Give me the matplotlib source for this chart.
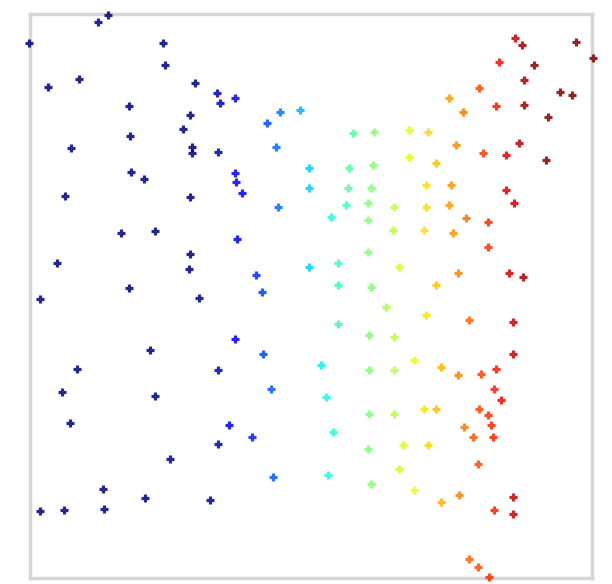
import matplotlib
matplotlib.use("Agg")
import matplotlib.pyplot as plt
import numpy as np

# point positions (x to the right, y downward)
x_vals = [29, 98, 108, 163, 165, 48, 79, 195, 217, 220, 235, 129, 190, 183, 130, 267, 280, 300,
          71, 192, 192, 218, 276, 131, 144, 65, 190, 235, 236, 242, 278, 121, 155, 237, 57, 190,
          189, 256, 129, 40, 199, 262, 150, 77, 62, 155, 70, 235, 263, 271, 229, 252, 218, 218,
          170, 273, 103, 145, 210, 40, 64, 104,
          515, 522, 576, 593, 534, 499, 524, 479, 449, 496, 524, 560, 572, 548, 463,
          353, 374, 409, 428, 456, 483, 506, 519, 546,
          309, 349, 373, 409, 436,
          309, 348, 371, 426, 451, 506, 514,
          346, 331, 368, 368, 394, 426, 449, 466, 488, 453, 488, 393, 424, 368,
          309, 338, 399, 458, 436, 509, 523, 338, 371,
          386, 426, 469, 513, 338, 369, 394, 513, 321, 414, 369, 394, 441, 458, 481, 496, 494, 501,
          326, 369, 394, 424, 436, 479, 488, 464, 473, 493, 491, 333, 368, 403, 428, 478, 328, 399,
          371, 414, 441, 459, 513, 494, 513, 469, 478, 489]
y_vals = [43, 22, 15, 43, 65, 87, 79, 83, 93, 103, 98, 106, 115, 129, 136, 123, 112, 110,
          148, 147, 153, 152, 147, 172, 179, 196, 197, 173, 182, 193, 207, 233, 231, 239, 263, 254,
          269, 275, 288, 299, 298, 292, 350, 369, 392, 396, 423, 339, 354, 389, 425, 437, 444, 370,
          459, 477, 489, 498, 500, 511, 510, 509,
          38, 45, 42, 58, 65, 62, 80, 88, 98, 106, 105, 92, 95, 117, 112,
          133, 132, 130, 132, 145, 153, 155, 143, 160,
          168, 168, 165, 157, 163,
          188, 188, 188, 185, 185, 190, 203,
          205, 217, 203, 220, 207, 207, 205, 218, 222, 233, 247, 230, 230, 252,
          267, 263, 267, 273, 285, 273, 277, 285, 287,
          307, 315, 320, 322, 324, 335, 337, 354, 365, 360, 370, 370, 367, 375, 374, 369, 389, 400,
          397, 414, 414, 409, 409, 409, 415, 427, 437, 437, 425, 432, 449, 445, 445, 464, 475, 469,
          484, 490, 502, 495, 497, 510, 514, 559, 567, 577]

x = np.array(x_vals, dtype=float)
y = np.array(y_vals, dtype=float)

fig = plt.figure(figsize=(6.12, 5.84), dpi=100)
ax = fig.add_axes([30/612, 6/584, 562/612, 564/584])
ax.scatter(x, y, c=x, cmap="jet", vmin=200, vmax=535, marker="+", s=40,
           linewidths=2.3, alpha=0.85, clip_on=False, zorder=3)
ax.set_xlim(30, 592)
ax.set_ylim(578, 14)
ax.set_xticks([])
ax.set_yticks([])
for sp in ax.spines.values():
    sp.set_color("#d6d6d6")
    sp.set_linewidth(2.5)
fig.savefig("out.png", dpi=100)
